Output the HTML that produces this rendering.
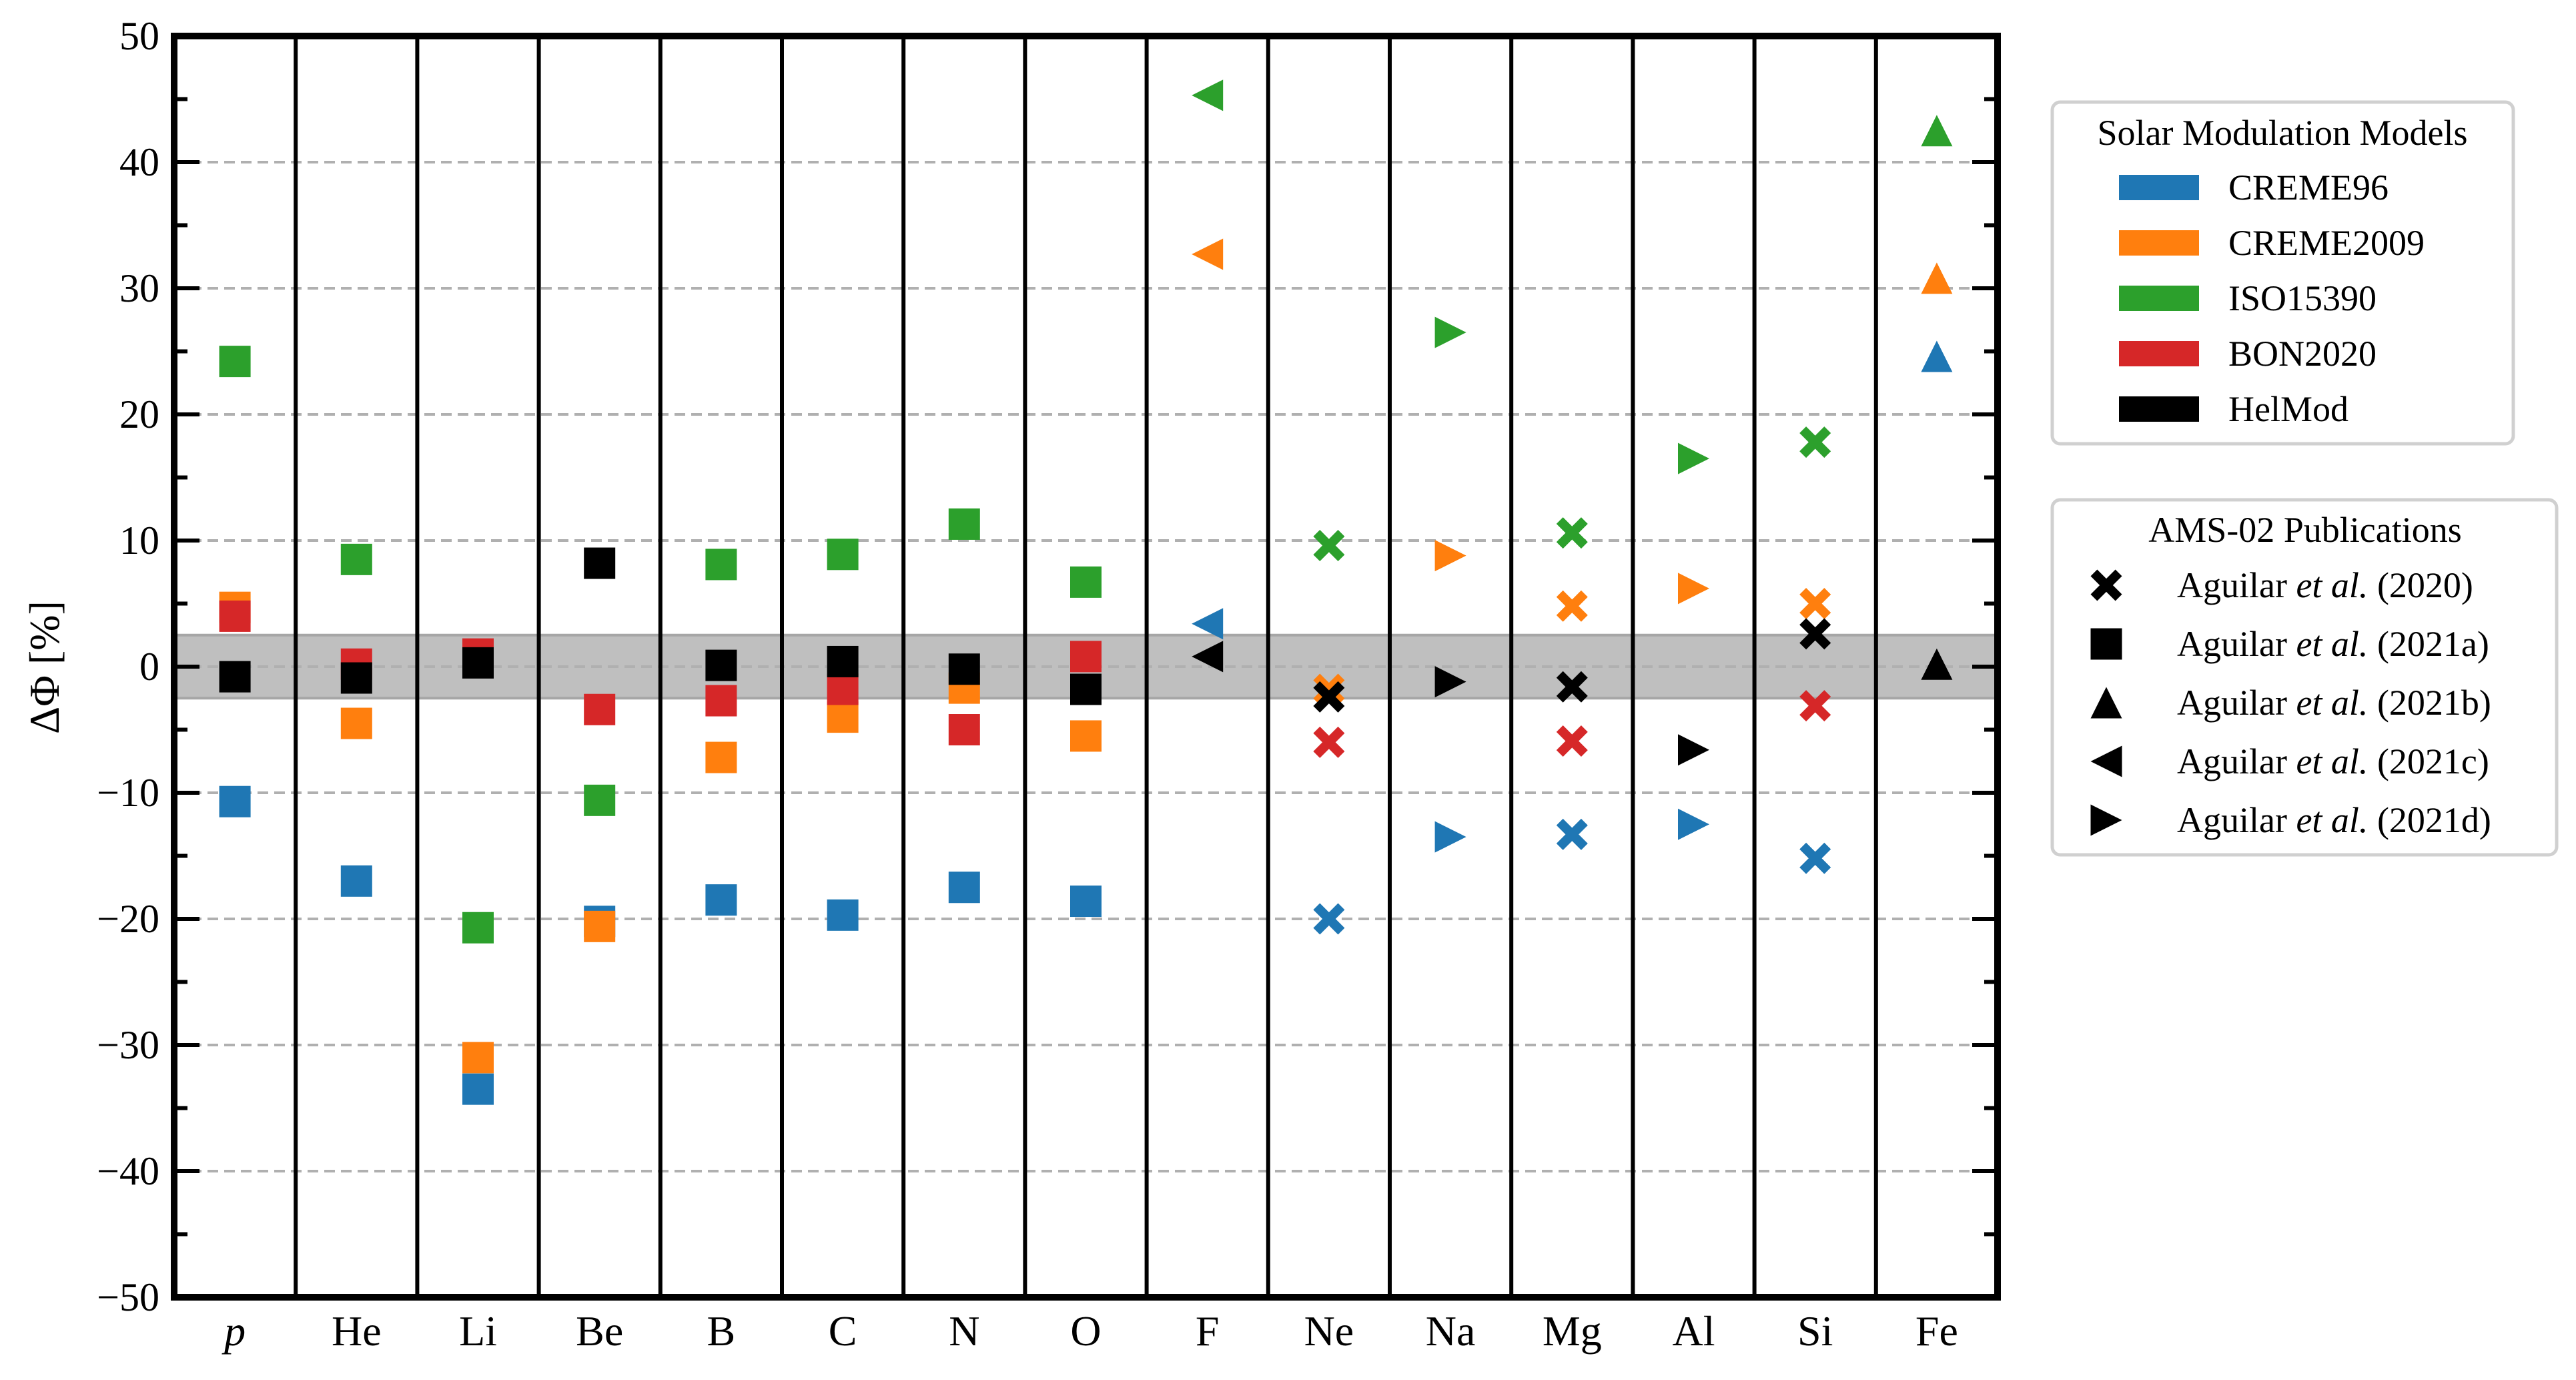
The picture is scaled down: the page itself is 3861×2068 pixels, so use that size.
<!DOCTYPE html>
<html><head><meta charset="utf-8"><style>
html,body{margin:0;padding:0;background:#fff;}
svg{display:block;font-family:"Liberation Serif",serif;}
</style></head><body>
<svg id="chart" width="3861" height="2068" viewBox="0 0 3861 2068" xmlns="http://www.w3.org/2000/svg">
<g id="bg"></g><g id="marks"></g><g id="frame"></g><g id="legends"></g>
</svg>
<script>
const categories = ["p","He","Li","Be","B","C","N","O","F","Ne","Na","Mg","Al","Si","Fe"];
const markerTypes = ["sq","sq","sq","sq","sq","sq","sq","sq","left","x","right","x","right","x","up"];
const creme96 =   [-10.7,-17,-33.5,-20.2,-18.5,-19.7,-17.5,-18.6,3.4,-20,-13.5,-13.3,-12.5,-15.2,24.6];
const creme2009 = [4.7,-4.5,-31,-20.6,-7.2,-4,-1.7,-5.5,32.7,-1.8,8.8,4.8,6.2,5.0,30.8];
const iso15390 =  [24.2,8.5,-20.7,-10.6,8.1,8.9,11.3,6.7,45.3,9.6,26.5,10.6,16.5,17.8,42.5];
const bon2020 =   [4.0,0.2,1.0,-3.4,-2.7,-1.8,-5,0.8,null,-6,null,-5.9,null,-3.1,null];
const helmod =    [-0.8,-0.9,0.3,8.2,0.1,0.4,-0.2,-1.8,0.8,-2.4,-1.2,-1.6,-6.6,2.6,0.2];
const yTicks = [50,40,30,20,10,0,-10,-20,-30,-40,-50];
const seriesNames = ["CREME96","CREME2009","ISO15390","BON2020","HelMod"];
const seriesColors = ["#1f77b4","#ff7f0e","#2ca02c","#d62728","#000000"];
const seriesData = [creme96,creme2009,iso15390,bon2020,helmod];

const NS="http://www.w3.org/2000/svg";
const L=261,R=2994,T=54,B=1944,YMAX=50,YMIN=-50;
const colW=(R-L)/categories.length;
function y(v){return T+(YMAX-v)/(YMAX-YMIN)*(B-T);}
function xc(i){return L+(i+0.5)*colW;}
function mk(tag,attrs,parent){const e=document.createElementNS(NS,tag);for(const k in attrs)e.setAttribute(k,attrs[k]);parent.appendChild(e);return e;}
const bg=document.getElementById('bg'),marks=document.getElementById('marks'),frame=document.getElementById('frame'),leg=document.getElementById('legends');

function marker(type,cx,cy,s,color,parent){
  const h=s/2;let e;
  if(type==="sq"){e=mk('rect',{x:cx-h,y:cy-h,width:s,height:s,fill:color},parent);}
  else if(type==="up"){e=mk('polygon',{points:`${cx},${cy-h} ${cx+h},${cy+h} ${cx-h},${cy+h}`,fill:color},parent);}
  else if(type==="left"){e=mk('polygon',{points:`${cx-h},${cy} ${cx+h},${cy-h} ${cx+h},${cy+h}`,fill:color},parent);}
  else if(type==="right"){e=mk('polygon',{points:`${cx+h},${cy} ${cx-h},${cy-h} ${cx-h},${cy+h}`,fill:color},parent);}
  else {const a=h*0.42,b=h;
    const p=[[-b,-b+a],[-b+a,-b],[0,-a],[b-a,-b],[b,-b+a],[a,0],[b,b-a],[b-a,b],[0,a],[-b+a,b],[-b,b-a],[-a,0]];
    e=mk('polygon',{points:p.map(q=>(cx+q[0])+','+(cy+q[1])).join(' '),fill:color},parent);}
  return e;
}

// band
const band=mk('rect',{x:L,y:y(2.5),width:R-L,height:y(-2.5)-y(2.5),fill:"#bfbfbf",stroke:"#a6a6a6","stroke-width":4},bg);


// grid
yTicks.forEach(v=>{ if(v===50||v===-50)return;
  const g=mk('line',{x1:L,x2:R,y1:y(v),y2:y(v),stroke:"#b0b0b0","stroke-width":4,"stroke-dasharray":"16 9"},bg);
  
  
});
// markers
seriesData.forEach((arr,si)=>{
  arr.forEach((v,i)=>{ if(v===null)return;
    const m=marker(markerTypes[i],xc(i),y(v),47,seriesColors[si],marks);
    
    
  });
});
// dividers
for(let i=1;i<categories.length;i++){
  const d=mk('line',{x1:L+i*colW,x2:L+i*colW,y1:T,y2:B,stroke:"#000","stroke-width":6},frame);
  
  
}
// ticks
for(let v=-45;v<=45;v+=5){
  const major=(v%10===0);const len=major?38:20;
  const t1=mk('line',{x1:L,x2:L+len,y1:y(v),y2:y(v),stroke:"#000","stroke-width":6},frame);
  
  
  const t2=mk('line',{x1:R-len,x2:R,y1:y(v),y2:y(v),stroke:"#000","stroke-width":6},frame);
  
  
}
const sp=mk('rect',{x:L,y:T,width:R-L,height:B-T,fill:"none",stroke:"#000","stroke-width":10},frame);


// tick labels
yTicks.forEach(v=>{
  const t=mk('text',{x:L-22,y:y(v)+20,"text-anchor":"end","font-size":60},frame);
  t.textContent=v<0?"\u2212"+Math.abs(v):String(v);
  
  
});
categories.forEach((c,i)=>{
  const t=mk('text',{x:xc(i),y:2016,"text-anchor":"middle","font-size":64},frame);
  if(c==="p")t.setAttribute('font-style','italic');
  t.textContent=c;
  
  
});
const yl=mk('text',{x:0,y:0,"text-anchor":"middle","font-size":64,transform:"translate(88,1000) rotate(-90)"},frame);
yl.textContent="\u0394\u03A6 [%]";



// legend 1
const l1=mk('g',{},leg);


mk('rect',{x:3076,y:153,width:691,height:512,rx:12,fill:"#fff",stroke:"#d0d0d0","stroke-width":5},l1);
const t1=mk('text',{x:3421,y:217,"text-anchor":"middle","font-size":54},l1);t1.textContent="Solar Modulation Models";


seriesNames.forEach((n,i)=>{
  const cy=281+i*83;
  const g=mk('g',{},l1);
  
  
  mk('rect',{x:3176,y:cy-19,width:120,height:38,fill:seriesColors[i]},g);
  const t=mk('text',{x:3340,y:cy+18,"font-size":54},g);t.textContent=n;
});
// legend 2
const l2=mk('g',{},leg);


mk('rect',{x:3076,y:749,width:756,height:532,rx:12,fill:"#fff",stroke:"#d0d0d0","stroke-width":5},l2);
const t2=mk('text',{x:3455,y:812,"text-anchor":"middle","font-size":54},l2);t2.textContent="AMS-02 Publications";


const pubTypes=["x","sq","up","left","right"];
const pubYears=["(2020)","(2021a)","(2021b)","(2021c)","(2021d)"];
pubTypes.forEach((tp,i)=>{
  const cy=877+i*88;
  const g=mk('g',{},l2);
  
  
  marker(tp,3157,cy,47,"#000",g);
  const t=mk('text',{x:3263,y:cy+18,"font-size":54},g);
  t.innerHTML='Aguilar <tspan font-style="italic">et al.</tspan> '+pubYears[i];
});
</script>
</body></html>
